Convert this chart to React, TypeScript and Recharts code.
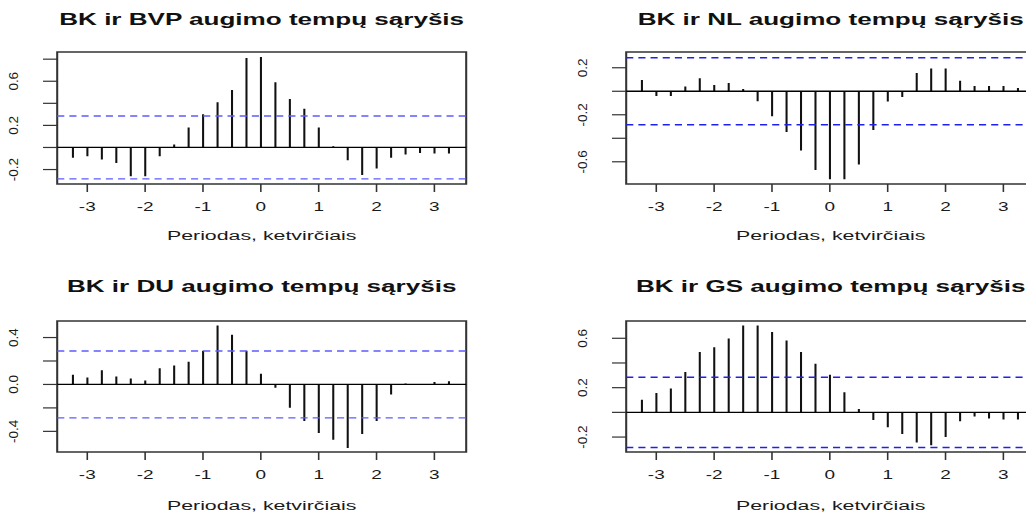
import { BarChart, Bar, XAxis, YAxis, ReferenceLine, ReferenceArea } from 'recharts';

// Lags in years (quarterly steps)
const LAGS = [-3.25, -3, -2.75, -2.5, -2.25, -2, -1.75, -1.5, -1.25, -1, -0.75, -0.5, -0.25,
  0, 0.25, 0.5, 0.75, 1, 1.25, 1.5, 1.75, 2, 2.25, 2.5, 2.75, 3, 3.25];

const CCF_BVP = [-0.094, -0.08, -0.11, -0.14, -0.26, -0.26, -0.08, 0.027, 0.18, 0.3, 0.41, 0.52, 0.81,
  0.82, 0.59, 0.44, 0.35, 0.18, 0.01, -0.115, -0.25, -0.19, -0.094, -0.063, -0.05, -0.054, -0.054];
const CCF_NL = [0.096, -0.04, -0.04, 0.04, 0.11, 0.054, 0.071, 0.02, -0.085, -0.213, -0.346, -0.505, -0.67,
  -0.749, -0.749, -0.624, -0.329, -0.088, -0.048, 0.155, 0.193, 0.193, 0.09, 0.044, 0.044, 0.044, 0.027];
const CCF_DU = [0.082, 0.06, 0.122, 0.068, 0.051, 0.034, 0.139, 0.162, 0.193, 0.287, 0.502, 0.423, 0.287,
  0.091, -0.028, -0.199, -0.312, -0.414, -0.471, -0.542, -0.423, -0.312, -0.085, 0.009, 0.003, 0.02, 0.028];
const CCF_GS = [0.102, 0.156, 0.194, 0.326, 0.488, 0.528, 0.598, 0.704, 0.704, 0.65, 0.582, 0.488, 0.394,
  0.305, 0.162, 0.027, -0.062, -0.121, -0.175, -0.245, -0.266, -0.2, -0.071, -0.033, -0.049, -0.057, -0.057];

// 95% confidence bound
const CI = 0.285;

const X_DOMAIN: [number, number] = [-3.52, 3.55];
const X_TICKS = [-3, -2, -1, 0, 1, 2, 3];

const SX = 1.58; // horizontal stretch of the whole figure
const AXIS_W = 30;
const PAD_L = 10;
const PLOT_W = 409 / SX;
const CHART_W = PAD_L + AXIS_W + PLOT_W + 10;

const XTick = (props: any) => {
  const { x, y, payload } = props;
  return (
    <text x={x} y={y} dy={17} textAnchor="middle" fontSize={12} fill="#1a1a1a">
      {payload.value}
    </text>
  );
};

// rotated labels are kept unstretched
const makeYTick = (labelled: number[]) => (props: any) => {
  const { x, y, payload } = props;
  const v = payload.value as number;
  if (!labelled.some((l) => Math.abs(l - v) < 1e-9)) return <g />;
  return (
    <text transform={`translate(${x - 13.5},${y}) scale(${1 / SX},1) rotate(-90)`} textAnchor="middle"
      fontSize={13.5} fill="#1a1a1a">
      {v === 0 ? '0.0' : v.toFixed(1)}
    </text>
  );
};

type PanelProps = {
  title: string;
  values: number[];
  yDomain: [number, number];
  yTicks: number[];
  yLabels: number[];
  left: number;
  boxTop: number;
  boxBottom: number;
  titleY: number;
  labelY: number;
  dash: string;
};

function Panel({ title, values, yDomain, yTicks, yLabels, left, boxTop, boxBottom, titleY, labelY, dash }: PanelProps) {
  const data = LAGS.map((lag, i) => ({ lag, r: values[i] }));
  const h = boxBottom + 40;
  const cx = PAD_L + AXIS_W + PLOT_W / 2;
  return (
    <div style={{ position: 'absolute', left, top: 0, width: CHART_W, height: h + 30, transform: `scaleX(${SX})`, transformOrigin: '0 0' }}>
      <BarChart width={CHART_W} height={h} data={data} barSize={1.3}
        margin={{ top: boxTop, right: 10, bottom: 0, left: PAD_L }}>
        <XAxis type="number" dataKey="lag" domain={X_DOMAIN} ticks={X_TICKS} interval={0} allowDataOverflow
          height={40} tickSize={8} axisLine={false} tickLine={{ stroke: '#333', strokeWidth: 1 }} tick={<XTick />} />
        <YAxis type="number" domain={yDomain} ticks={yTicks} interval={0} allowDataOverflow
          width={AXIS_W} tickSize={9} axisLine={false} tickLine={{ stroke: '#333', strokeWidth: 1.2 }} tick={makeYTick(yLabels)} />
        <ReferenceArea x1={X_DOMAIN[0]} x2={X_DOMAIN[1]} y1={yDomain[0]} y2={yDomain[1]}
          fill="none" fillOpacity={0} stroke="#333" strokeWidth={1.3} ifOverflow="visible" />
        <ReferenceLine y={0} stroke="#000" strokeWidth={1.3} />
        <ReferenceLine y={CI} stroke={dash} strokeWidth={1.4} strokeDasharray="4.5 3.2" />
        <ReferenceLine y={-CI} stroke={dash} strokeWidth={1.4} strokeDasharray="4.5 3.2" />
        <Bar dataKey="r" fill="#111" isAnimationActive={false} />
      </BarChart>
      <svg width={CHART_W} height={h + 30} style={{ position: 'absolute', left: 0, top: 0, overflow: 'visible', pointerEvents: 'none' }}>
        <text x={cx} y={titleY} textAnchor="middle" fontSize={16.5} fontWeight="bold" fill="#111">{title}</text>
        <text x={cx} y={labelY} textAnchor="middle" fontSize={13.5} fill="#1a1a1a">Periodas, ketvirčiais</text>
      </svg>
    </div>
  );
}

export default function App() {
  const leftCol = 57 - (PAD_L + AXIS_W) * SX;
  const rightCol = 626 - (PAD_L + AXIS_W) * SX;
  return (
    <div style={{ position: 'fixed', left: 0, top: 0, width: 1026, height: 514, overflow: 'hidden', background: '#fff',
      fontFamily: '"Liberation Sans", Arial, sans-serif' }}>
      <Panel title="BK ir BVP augimo tempų sąryšis" values={CCF_BVP} yDomain={[-0.331, 0.865]}
        yTicks={[-0.2, 0, 0.2, 0.4, 0.6, 0.8]} yLabels={[-0.2, 0.2, 0.6]}
        left={leftCol} boxTop={52} boxBottom={184} titleY={25} labelY={240} dash="#5c5cff" />
      <Panel title="BK ir NL augimo tempų sąryšis" values={CCF_NL} yDomain={[-0.789, 0.334]}
        yTicks={[-0.6, -0.4, -0.2, 0, 0.2]} yLabels={[-0.6, -0.2, 0.2]}
        left={rightCol} boxTop={52} boxBottom={184} titleY={25} labelY={240} dash="#2020ee" />
      <Panel title="BK ir DU augimo tempų sąryšis" values={CCF_DU} yDomain={[-0.576, 0.541]}
        yTicks={[-0.4, -0.2, 0, 0.2, 0.4]} yLabels={[-0.4, 0, 0.4]}
        left={leftCol} boxTop={321} boxBottom={452} titleY={292} labelY={510} dash="#5c5cff" />
      <Panel title="BK ir GS augimo tempų sąryšis" values={CCF_GS} yDomain={[-0.321, 0.74]}
        yTicks={[-0.2, 0, 0.2, 0.4, 0.6]} yLabels={[-0.2, 0.2, 0.6]}
        left={rightCol} boxTop={321} boxBottom={452} titleY={292} labelY={510} dash="#2020ee" />
    </div>
  );
}
